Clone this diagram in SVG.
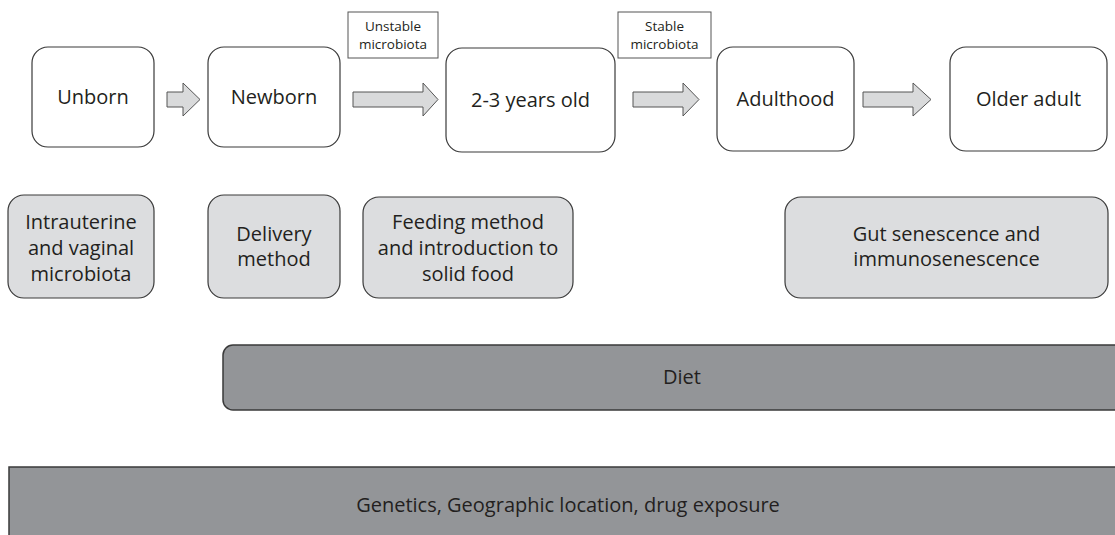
<svg xmlns="http://www.w3.org/2000/svg" width="1115" height="535" viewBox="0 0 1115 535">
<style>
.stage{fill:#ffffff;stroke:#3a3a3a;stroke-width:1.2}
.factor{fill:#dcdddf;stroke:#3a3a3a;stroke-width:1.2}
.bar{fill:#939598;stroke:#3a3a3a;stroke-width:1.5}
.lbl{fill:#ffffff;stroke:#555555;stroke-width:1}
.arrow{fill:#d9dadb;stroke:#555555;stroke-width:1}
text{font-family:"Open Sans","Liberation Sans",sans-serif;fill:#231f20;text-anchor:middle}
.t{font-size:20px}
.s{font-size:13.5px}
</style>
<g id="connectors">
<path class="arrow" d="M167,92 H183 V83 L200,99.5 L183,116 V107 H167 Z"/>
<path class="arrow" d="M353,92 H423 V83 L438,99.5 L423,116 V107 H353 Z"/>
<path class="arrow" d="M633,92 H683 V83 L699,99.5 L683,116 V107 H633 Z"/>
<path class="arrow" d="M863,92 H913 V83 L931,99.5 L913,116 V107 H863 Z"/>
</g>
<g id="label-unstable">
<rect class="lbl" x="348" y="12" width="90" height="46"/>
<text class="s" x="393" y="31">Unstable</text>
<text class="s" x="393" y="49">microbiota</text>
</g>
<g id="label-stable">
<rect class="lbl" x="618" y="12" width="93" height="46"/>
<text class="s" x="664.5" y="31">Stable</text>
<text class="s" x="664.5" y="49">microbiota</text>
</g>
<g id="unborn">
<rect class="stage" x="32" y="47" width="122" height="100" rx="16"/>
<text class="t" x="93" y="104">Unborn</text>
</g>
<g id="newborn">
<rect class="stage" x="208" y="47" width="132" height="100" rx="16"/>
<text class="t" x="274" y="104">Newborn</text>
</g>
<g id="toddler">
<rect class="stage" x="446" y="48" width="169" height="104" rx="16"/>
<text class="t" x="530.5" y="107">2-3 years old</text>
</g>
<g id="adulthood">
<rect class="stage" x="717" y="47" width="137" height="104" rx="16"/>
<text class="t" x="785.5" y="106">Adulthood</text>
</g>
<g id="older-adult">
<rect class="stage" x="950" y="47" width="157" height="104" rx="16"/>
<text class="t" x="1028.5" y="106">Older adult</text>
</g>
<g id="intrauterine">
<rect class="factor" x="8" y="195" width="146" height="103" rx="16"/>
<text class="t" x="81" y="229">Intrauterine</text>
<text class="t" x="81" y="255">and vaginal</text>
<text class="t" x="81" y="281">microbiota</text>
</g>
<g id="delivery">
<rect class="factor" x="208" y="195" width="132" height="103" rx="16"/>
<text class="t" x="274" y="241">Delivery</text>
<text class="t" x="274" y="266">method</text>
</g>
<g id="feeding">
<rect class="factor" x="363" y="197" width="210" height="101" rx="16"/>
<text class="t" x="468" y="229">Feeding method</text>
<text class="t" x="468" y="255">and introduction to</text>
<text class="t" x="468" y="281">solid food</text>
</g>
<g id="senescence">
<rect class="factor" x="785" y="197" width="323" height="101" rx="16"/>
<text class="t" x="946.5" y="241">Gut senescence and</text>
<text class="t" x="946.5" y="266">immunosenescence</text>
</g>
<g id="diet">
<rect class="bar" x="223" y="345" width="910" height="65" rx="10"/>
<text class="t" x="682" y="384">Diet</text>
</g>
<g id="genetics">
<rect class="bar" x="9" y="467" width="1120" height="90"/>
<text class="t" x="568" y="512">Genetics, Geographic location, drug exposure</text>
</g>
</svg>
